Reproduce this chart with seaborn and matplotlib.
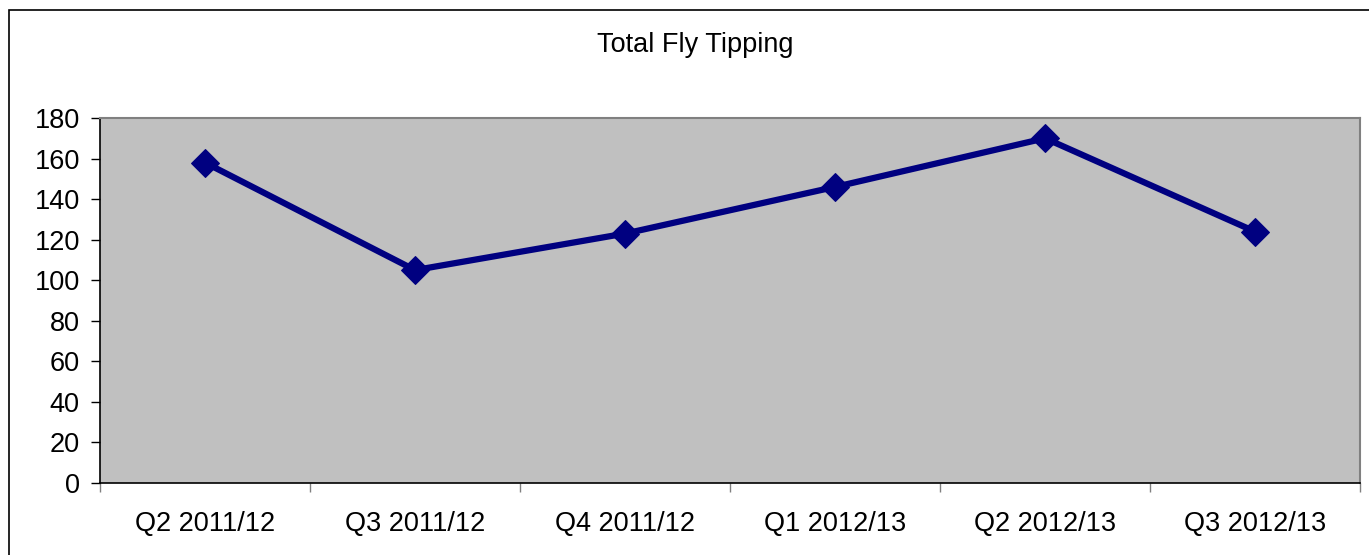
import pandas as pd
import numpy as np
import matplotlib.pyplot as plt
import seaborn as sns
from matplotlib.patches import Rectangle

quarters = ['Q2 2011/12', 'Q3 2011/12', 'Q4 2011/12', 'Q1 2012/13', 'Q2 2012/13', 'Q3 2012/13']
totals = [158, 105, 123, 146, 170, 124]

df = pd.DataFrame({'quarter': quarters, 'total': totals})
df['pos'] = np.arange(len(df))

sns.set_style('white')
plt.rcParams['font.family'] = ['Liberation Sans', 'DejaVu Sans']
plt.rcParams['text.color'] = 'black'

fig = plt.figure(figsize=(13.69, 5.55), dpi=100)
ax = fig.add_axes([100 / 1369, 1 - 483 / 555, 1260 / 1369, 365 / 555])
ax.set_facecolor('#C0C0C0')

sns.lineplot(data=df, x='pos', y='total', ax=ax, color='#000080', linewidth=4.5,
             marker='D', markersize=14.5, markeredgecolor='#000080')

ax.set_xlim(-0.5, len(df) - 0.5)
ax.set_ylim(0, 180)
ax.set_yticks(range(0, 181, 20))
ax.set_xticks(df['pos'])
ax.set_xticklabels(quarters)
ax.set_xticks(np.arange(-0.5, len(df), 1), minor=True)
ax.tick_params(axis='x', which='major', bottom=True, length=0, pad=20, labelsize=19.5, labelcolor='black')
ax.tick_params(axis='x', which='minor', bottom=True, length=6.5, width=1, color='#808080', direction='out')
ax.tick_params(axis='y', left=True, length=6.5, width=1, color='black', direction='out', pad=8,
               labelsize=19.5, labelcolor='black')
ax.set_xlabel('')
ax.set_ylabel('')

for side in ['top', 'right']:
    ax.spines[side].set_color('#808080')
    ax.spines[side].set_linewidth(1.5)
for side in ['left', 'bottom']:
    ax.spines[side].set_color('black')
    ax.spines[side].set_linewidth(1.2)

fig.text(695 / 1369, 1 - 45 / 555, 'Total Fly Tipping', ha='center', va='center', fontsize=19.5, color='black')

# outer chart border
fig.patches.append(Rectangle((9 / 1369, -0.1), 1.2, 1 - 10 / 555 + 0.1, transform=fig.transFigure,
                             fill=False, edgecolor='black', linewidth=1.2))

fig.savefig('out.png', dpi=100)
